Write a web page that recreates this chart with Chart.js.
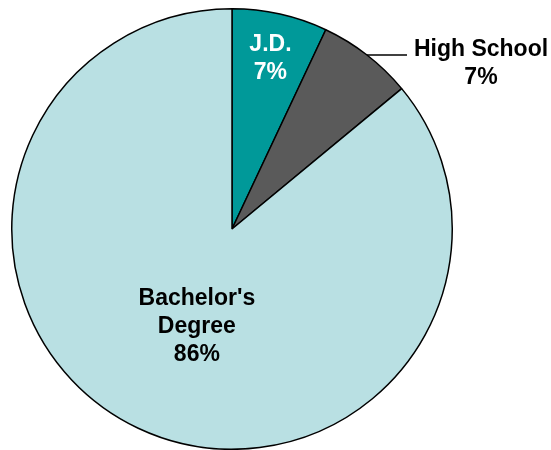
<!DOCTYPE html>
<html>
<head>
<meta charset="utf-8">
<script src="https://cdn.jsdelivr.net/npm/chart.js@4.4.0/dist/chart.umd.min.js"></script>
<style>
  html,body{margin:0;padding:0;background:#fff;}
  #wrap{width:551px;height:450px;position:relative;}
</style>
</head>
<body>
<div id="wrap"><canvas id="pie"></canvas></div>
<script>
// ── DATA ──
const labels  = ['J.D.', 'High School', "Bachelor's Degree"];
const values  = [7, 7, 86];
const labelLines = [['J.D.', '7%'], ['High School', '7%'], ["Bachelor's", 'Degree', '86%']];
const colors  = ['#009999', '#5A5A5A', '#B9E0E3'];

const FONT = "bold 23px 'Liberation Sans', Arial, sans-serif";
const LINE_H = 28;

// labels drawn on/next to each slice
const sliceLabels = {
  id: 'sliceLabels',
  afterDatasetsDraw(chart){
    const ctx = chart.ctx;
    const arcs = chart.getDatasetMeta(0).data;
    ctx.save();
    ctx.font = FONT;
    ctx.textAlign = 'center';
    ctx.textBaseline = 'alphabetic';
    arcs.forEach((arc, i) => {
      const {x, y, startAngle, endAngle, outerRadius} = arc.getProps(['x','y','startAngle','endAngle','outerRadius'], true);
      const mid = (startAngle + endAngle) / 2;
      const lines = labelLines[i];
      let cx, cy, color = '#000';
      if (i === 0) {            // inside, white
        cx = x + Math.cos(mid) * outerRadius * 0.8;
        cy = y + Math.sin(mid) * outerRadius * 0.8;
        color = '#fff';
      } else if (i === 1) {     // outside with leader line
        const ex = x + Math.cos(mid) * outerRadius;
        const ey = y + Math.sin(mid) * outerRadius;
        ctx.strokeStyle = '#000';
        ctx.lineWidth = 1.5;
        ctx.beginPath();
        ctx.moveTo(ex, ey);
        ctx.lineTo(ex + 40, ey);
        ctx.stroke();
        cx = ex + 114;
        cy = ey + 7;
      } else {                  // inside bachelor's
        cx = x + Math.cos(mid) * outerRadius * 0.46 + 8;
        cy = y + Math.sin(mid) * outerRadius * 0.46 + 4;
      }
      ctx.fillStyle = color;
      const top = cy - (lines.length - 1) * LINE_H / 2 + 8;
      lines.forEach((t, k) => ctx.fillText(t, cx, top + k * LINE_H));
    });
    ctx.restore();
  }
};

new Chart(document.getElementById('pie').getContext('2d'), {
  type: 'pie',
  data: {
    labels,
    datasets: [{ data: values, backgroundColor: colors, borderColor: '#000', borderWidth: 1.5, hoverOffset: 0 }]
  },
  options: {
    responsive: true,
    maintainAspectRatio: false,
    animation: false,
    layout: { padding: { left: 11, right: 98, top: 8, bottom: 0 } },
    plugins: { legend: { display: false }, tooltip: { enabled: false } }
  },
  plugins: [sliceLabels]
});
</script>
</body>
</html>
